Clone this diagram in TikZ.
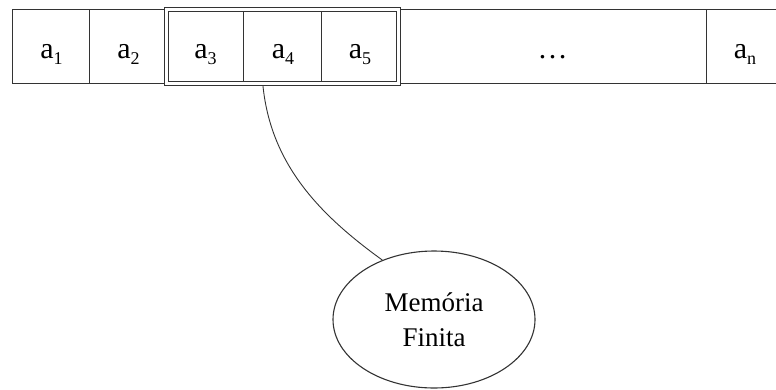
\documentclass[tikz,border=0pt]{standalone}
\usepackage{fontspec}
\setmainfont{Liberation Serif}
\usetikzlibrary{shapes.geometric,calc}
\definecolor{linec}{HTML}{333333}
\tikzset{
  cell/.style={draw=linec, line width=1.1pt, minimum height=74pt, inner sep=0pt, anchor=north west},
  lbl/.style={anchor=base, inner sep=0pt, font=\fontsize{30}{32}\selectfont},
  win/.style={draw=linec, double=white, double distance=2.3pt, line width=1pt, inner sep=0pt, anchor=north west},
  memnode/.style={ellipse, draw=linec, line width=1.1pt, inner sep=0pt, minimum width=202pt, minimum height=137pt, align=center, font=\fontsize{27}{34.7}\selectfont},
  conn/.style={draw=linec, line width=0.9pt}
}
\newcommand{\subidx}[1]{\raisebox{-6pt}{\fontsize{18}{18}\selectfont #1}}
\begin{document}
\begin{tikzpicture}[x=1pt,y=-1pt]
\useasboundingbox (0,0) rectangle (776,389);
\clip (0,0) rectangle (776,389);
\node[cell, minimum width=77.3pt] (c1) at (12,9) {};
\node[cell, minimum width=76.7pt] (c2) at (89.3,9) {};
\node[cell, minimum width=77.3pt] (c3) at (166,9) {};
\node[cell, minimum width=77.4pt] (c4) at (243.3,9) {};
\node[cell, minimum width=77.3pt] (c5) at (320.7,9) {};
\node[cell, minimum width=308pt] (cd) at (398,9) {};
\node[cell, minimum width=90pt] (cn) at (706,9) {};
\node[win, minimum width=232pt, minimum height=74pt] (w) at (166,9) {};
\node[lbl] (t1) at (51.5,58) {a\subidx{1}};
\node[lbl] (t2) at (128.5,58) {a\subidx{2}};
\node[lbl] (t3) at (205.5,58) {a\subidx{3}};
\node[lbl] (t4) at (283,58) {a\subidx{4}};
\node[lbl] (t5) at (360,58) {a\subidx{5}};
\node[lbl] (td) at (552.5,58) {…};
\node[lbl] (tn) at (745,58) {a\subidx{n}};
\node[memnode] (mem) at (434,319.5) {Memória\\Finita};
\coordinate (s) at ($(c4.south west)!0.25!(c4.south east)+(0,1.5)$);
\draw[conn] (s) .. controls (271,165) and (320,215) .. (mem.131);
\end{tikzpicture}
\end{document}
